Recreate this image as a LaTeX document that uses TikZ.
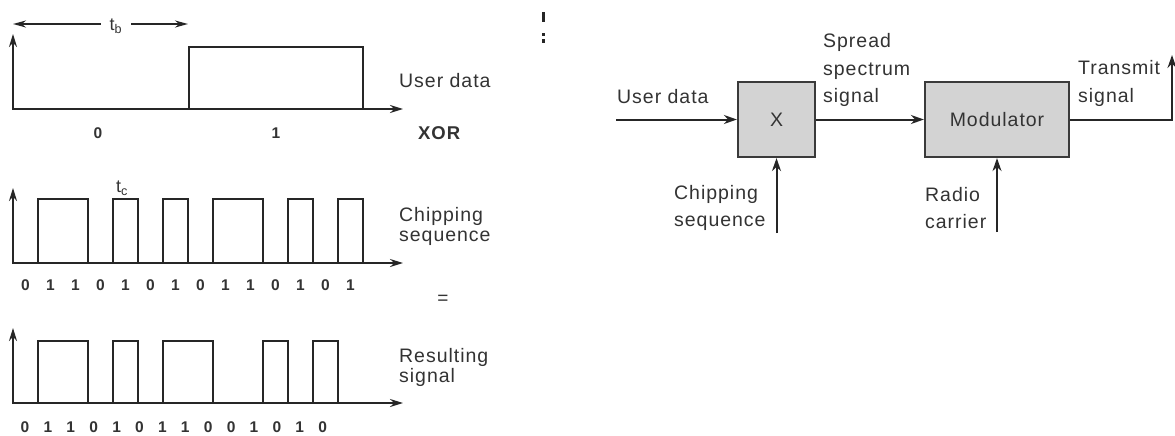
\documentclass[tikz,border=0pt]{standalone}
\usepackage{fontspec}
\setmainfont{Liberation Sans}[LetterSpace=5]
\usetikzlibrary{arrows.meta}
\definecolor{ink}{HTML}{262626}
\definecolor{txtgray}{HTML}{333333}
\definecolor{boxfill}{HTML}{D3D3D3}
\definecolor{boxline}{HTML}{3A3A3A}
\tikzset{
  axisline/.style={draw=ink, line width=2pt, >={Stealth[length=13pt,width=8pt]}, <->},
  sig/.style={draw=ink, line width=1.9pt},
  tbline/.style={draw=ink, line width=1.8pt, -{Stealth[length=13pt,width=7pt]}},
  flow/.style={draw=ink, line width=2pt, -{Stealth[length=13pt,width=9pt]}},
  lbl/.style={font=\fontsize{19.5}{19.5}\selectfont, text=txtgray, inner sep=0pt, align=left},
  lblwide/.style={font=\fontsize{19.5}{27.5}\selectfont, text=txtgray, inner sep=0pt, align=left},
  bitlbl/.style={font=\fontsize{15.5}{15.5}\selectfont\bfseries, text=txtgray, inner sep=0pt},
  subt/.style={font=\fontsize{18}{18}\selectfont, text=txtgray, inner sep=0pt},
  blk/.style={draw=boxline, line width=2.2pt, fill=boxfill, font=\fontsize{19.5}{19.5}\selectfont, text=txtgray}
}
\begin{document}
\begin{tikzpicture}[x=1pt,y=-1pt]
\fill[white] (0,0) rectangle (1175,436);
\useasboundingbox (0,0) rectangle (1175,436);

% ---------- user data chart ----------
\coordinate (ya) at (13,34);
\coordinate (oa) at (13,109);
\coordinate (xa) at (403,109);
\draw[axisline] (ya) -- (oa) -- (xa);
\draw[sig] (189,109) -- (189,47) -- (363,47) -- (363,109);
\node[subt, inner xsep=9pt] (tb) at (116,26) {t\textsubscript{b}};
\coordinate (tbl) at (13,24);
\coordinate (tbr) at (188,24);
\draw[tbline] (tb.west |- tbl) -- (tbl);
\draw[tbline] (tb.east |- tbr) -- (tbr);
\node[bitlbl] (ub0) at (98,133) {0};
\node[bitlbl] (ub1) at (276,133) {1};
\node[lbl, anchor=west] (udl) at (399,81) {User data};
\node[lbl, anchor=west, font=\fontsize{18.5}{18.5}\selectfont\bfseries] (xor) at (418,133) {XOR};

% ---------- chipping sequence chart ----------
\coordinate (yb) at (13,188);
\coordinate (ob) at (13,263);
\coordinate (xb) at (403,263);
\draw[axisline] (yb) -- (ob) -- (xb);
\foreach \a/\b in {1/3,4/5,6/7,8/10,11/12,13/14}
  \draw[sig] ({13+25*\a},263) -- ({13+25*\a},199) -- ({13+25*\b},199) -- ({13+25*\b},263);
\node[subt] (tc) at (122,188) {t\textsubscript{c}};
\foreach \v [count=\i from 0] in {0,1,1,0,1,0,1,0,1,1,0,1,0,1}
  \node[bitlbl] (cb\i) at ({25.5+25*\i},285) {\v};
\node[lbl, anchor=west] (csl) at (399,226.5) {Chipping\\sequence};
\node[font=\fontsize{19}{19}\selectfont, text=txtgray, inner sep=0pt] (eq) at (443,300) {=};

% ---------- resulting signal chart ----------
\coordinate (yc) at (13,328);
\coordinate (oc) at (13,403);
\coordinate (xc) at (403,403);
\draw[axisline] (yc) -- (oc) -- (xc);
\foreach \a/\b in {1/3,4/5,6/8,10/11,12/13}
  \draw[sig] ({13+25*\a},403) -- ({13+25*\a},341) -- ({13+25*\b},341) -- ({13+25*\b},403);
\foreach \v [count=\i from 0] in {0,1,1,0,1,0,1,1,0,0,1,0,1,0}
  \node[bitlbl] (rb\i) at ({25+22.9*\i},427) {\v};
\node[lbl, anchor=west] (rsl) at (399,367.5) {Resulting\\signal};

% ---------- crop remnants ----------
\fill[ink] (542,12) rectangle (545,22);
\fill[ink] (542,33) rectangle (545,36);
\fill[ink] (542,39) rectangle (545,43);

% ---------- block diagram ----------
\node[blk, minimum width=77pt, minimum height=75pt] (mix) at (776.5,119.5) {X};
\node[blk, minimum width=144pt, minimum height=75pt] (mod) at (997,119.5) {Modulator};
\coordinate (udin) at (616,119.5);
\coordinate (txc) at (1172,119.5);
\coordinate (txtop) at (1172,55);
\coordinate (chin) at (776.5,233);
\coordinate (rcin) at (997,232);
\draw[flow] (udin) -- (mix);
\draw[flow] (mix) -- (mod);
\draw[flow] (mod.east) -- (txc) -- (txtop);
\draw[flow] (chin) -- (mix);
\draw[flow] (rcin) -- (mod);
\node[lbl, anchor=west] (udr) at (617,97) {User data};
\node[lblwide, anchor=west] (ss) at (823,70) {Spread\\spectrum\\signal};
\node[lblwide, anchor=west] (ts) at (1078,83.5) {Transmit\\signal};
\node[lblwide, anchor=west] (cs) at (674,208) {Chipping\\sequence};
\node[lblwide, anchor=west] (rc) at (925,208) {Radio\\carrier};
\end{tikzpicture}
\end{document}
